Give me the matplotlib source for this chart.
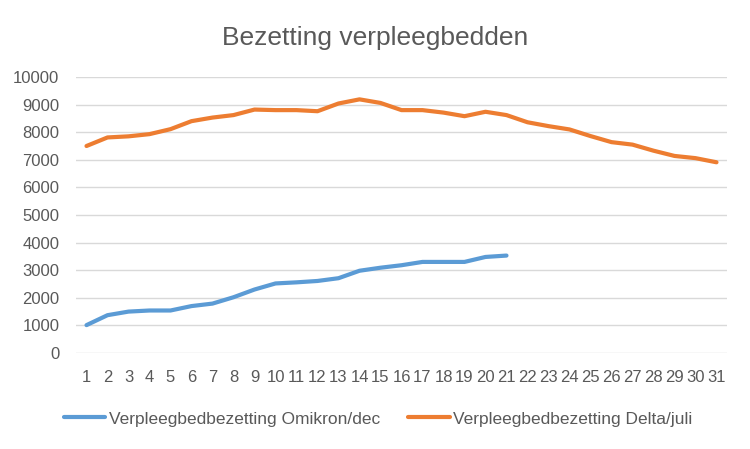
import matplotlib.pyplot as plt

# days of the month
days = list(range(1, 32))

# bed occupancy per day
omikron_dec = [1010, 1370, 1500, 1540, 1540, 1700, 1790, 2020, 2300, 2520,
               2560, 2610, 2710, 2980, 3090, 3180, 3300, 3300, 3300, 3480, 3530]
delta_juli = [7500, 7810, 7850, 7930, 8110, 8400, 8530, 8620, 8820, 8800,
              8800, 8760, 9040, 9190, 9060, 8800, 8800, 8710, 8580, 8740,
              8620, 8360, 8220, 8100, 7860, 7640, 7550, 7330, 7140, 7060, 6910]

labels = ['Verpleegbedbezetting Omikron/dec', 'Verpleegbedbezetting Delta/juli']
yticks = list(range(0, 10001, 1000))

plt.rcParams['font.family'] = ['Liberation Sans', 'DejaVu Sans']
grey = '#595959'

fig = plt.figure(figsize=(7.5, 4.49), dpi=100)
ax = fig.add_axes([76/750, (449-353)/449, (727-76)/750, (353-77)/449])

ax.plot(days[:len(omikron_dec)], omikron_dec, color='#5B9BD5', lw=3, label=labels[0],
        solid_capstyle='round', solid_joinstyle='round')
ax.plot(days, delta_juli, color='#ED7D31', lw=3, label=labels[1],
        solid_capstyle='round', solid_joinstyle='round')

ax.set_xlim(0.5, 31.5)
ax.set_ylim(0, 10000)
ax.set_xticks(days)
ax.set_yticks(yticks)
ax.tick_params(length=0, colors=grey, labelsize=12)
ax.tick_params(axis='x', pad=12)
ax.tick_params(axis='y', pad=12)
ax.grid(axis='y', color='#D9D9D9', lw=1)
ax.set_axisbelow(True)
for s in ax.spines.values():
    s.set_visible(False)

fig.text(0.5, 1 - 38/449, 'Bezetting verpleegbedden', ha='center', va='center',
         fontsize=19, color=grey)
fig.legend(loc='center', bbox_to_anchor=(0.504, 1 - 419/449), ncol=2, frameon=False,
           fontsize=12.5, labelcolor=grey, handlelength=2.4, columnspacing=1.6,
           handletextpad=0.2)

fig.savefig('out.png', dpi=100)
plt.close(fig)
